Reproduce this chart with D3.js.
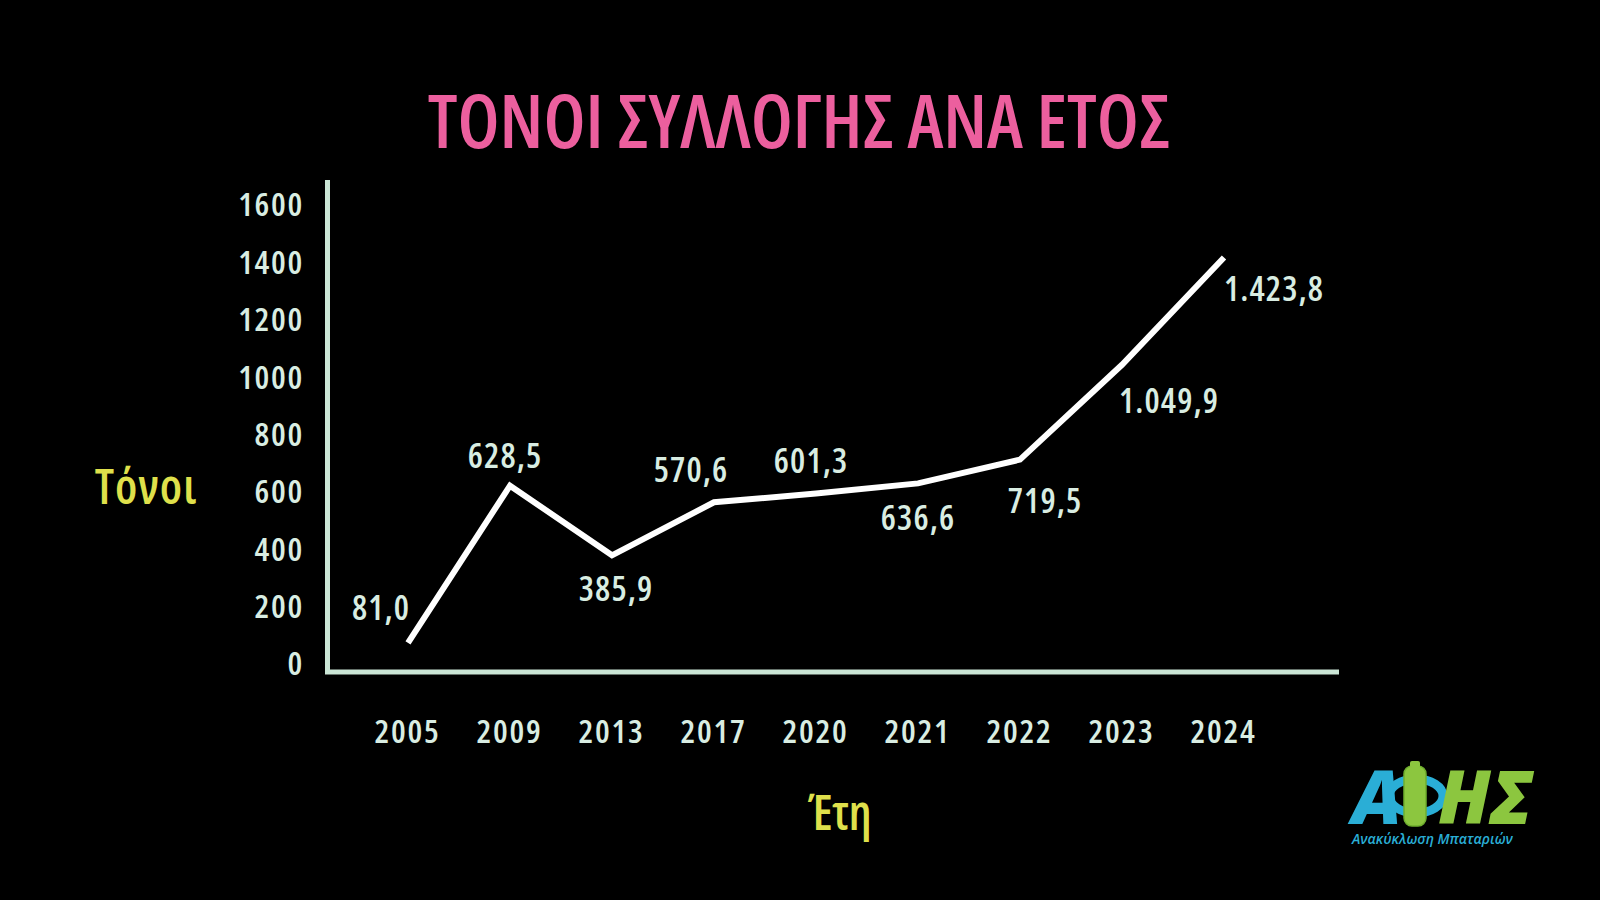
<!DOCTYPE html>
<html>
<head>
<meta charset="utf-8">
<script src="https://cdn.jsdelivr.net/npm/d3@7"></script>
<style>
  html, body { margin: 0; padding: 0; background: #000; }
  svg { display: block; }
  .cond { font-family: "Open Sans", "DejaVu Sans Condensed", sans-serif; font-stretch: 75%; }
</style>
</head>
<body>
<svg id="chart" width="1600" height="900"></svg>
<script>
// ---- data ----
const years = ["2005", "2009", "2013", "2017", "2020", "2021", "2022", "2023", "2024"];
const tonnes = [81.0, 628.5, 385.9, 570.6, 601.3, 636.6, 719.5, 1049.9, 1423.8];
const yTicks = [0, 200, 400, 600, 800, 1000, 1200, 1400, 1600];
const title = "ΤΟΝΟΙ ΣΥΛΛΟΓΗΣ ΑΝΑ ΕΤΟΣ";
const yTitle = "Τόνοι";
const xTitle = "Έτη";

// label placement (offsets from each point, px)
const labelDx = [-27, -5, 4, -23, -5, 0, 25, 47, 50];
const labelDy = [-35, -30, 33, -33, -33, 34, 41, 36, 31];

const fmt = v => {
  const s = v.toFixed(1).split(".");
  const int = s[0].replace(/\B(?=(\d{3})+(?!\d))/g, ".");
  return int + "," + s[1];
};

const svg = d3.select("#chart");
const W = 1600, H = 900;
svg.append("rect").attr("width", W).attr("height", H).attr("fill", "#000");

const mint = "#d9ede2";
const axisCol = "#cbe6d6";
const yellow = "#dfe04b";

const x = d3.scalePoint().domain(years).range([408, 1224]);
const y = d3.scaleLinear().domain([0, 1600]).range([666, 207]);

// title
svg.append("text").attr("class", "cond")
  .attr("x", 799).attr("y", 148)
  .attr("text-anchor", "middle")
  .attr("font-size", 74).attr("font-weight", 600)
  .attr("fill", "#ec5f9e")
  .text(title);

// y axis tick labels
const yAxis = d3.axisLeft(y).tickValues(yTicks).tickSize(0).tickPadding(0).tickFormat(d3.format("d"));
const gy = svg.append("g").attr("transform", "translate(304,-3)").call(yAxis);
gy.select(".domain").remove();
gy.selectAll("text").attr("class", "cond")
  .attr("font-size", 33).attr("font-weight", 600).attr("fill", mint)
  .attr("letter-spacing", "1.7px")
  .attr("dy", "0.36em");

// x axis tick labels
const xAxis = d3.axisBottom(x).tickSize(0).tickPadding(0);
const gx = svg.append("g").attr("transform", "translate(-1,731)").call(xAxis);
gx.select(".domain").remove();
gx.selectAll("text").attr("class", "cond")
  .attr("font-size", 33).attr("font-weight", 600).attr("fill", mint)
  .attr("letter-spacing", "1.7px")
  .attr("dy", "0.36em");

// axis lines
const axisY = 672;
svg.append("path")
  .attr("d", d3.line()([[327.5, 180], [327.5, axisY], [1339, axisY]]))
  .attr("fill", "none").attr("stroke", axisCol).attr("stroke-width", 5);

// line
const line = d3.line().x((d, i) => x(years[i])).y(d => y(d));
svg.append("path").datum(tonnes)
  .attr("d", line)
  .attr("fill", "none").attr("stroke", "#fff").attr("stroke-width", 6)
  .attr("stroke-linejoin", "miter");

// data labels
svg.append("g").selectAll("text").data(tonnes).join("text")
  .attr("class", "cond")
  .attr("x", (d, i) => x(years[i]) + labelDx[i])
  .attr("y", (d, i) => y(d) + labelDy[i])
  .attr("dy", "0.36em")
  .attr("text-anchor", "middle")
  .attr("font-size", 34).attr("font-weight", 600).attr("fill", mint)
  .attr("letter-spacing", "1.1px")
  .text(d => fmt(d));

// axis titles
svg.append("text").attr("class", "cond")
  .attr("x", 146).attr("y", 487).attr("dy", "0.36em")
  .attr("text-anchor", "middle")
  .attr("font-size", 48).attr("font-weight", 600).attr("fill", yellow)
  .attr("letter-spacing", "1px")
  .text(yTitle);
svg.append("text").attr("class", "cond")
  .attr("x", 840).attr("y", 813).attr("dy", "0.36em")
  .attr("text-anchor", "middle")
  .attr("font-size", 48).attr("font-weight", 600).attr("fill", yellow)
  .text(xTitle);

// logo
const logo = svg.append("g").attr("transform", "translate(1352,760)");
const blue = "#2aaed6", green = "#8cc63f";
logo.append("text").attr("x", 0).attr("y", 64)
  .attr("font-family", "Open Sans, sans-serif").attr("font-weight", 800)
  .attr("font-size", 74).attr("font-style", "italic").attr("fill", blue).text("Α");
// Φ: blue ring + green battery
logo.append("ellipse").attr("cx", 64).attr("cy", 36).attr("rx", 27).attr("ry", 17)
  .attr("fill", "none").attr("stroke", blue).attr("stroke-width", 9);
logo.append("rect").attr("x", 52).attr("y", 6).attr("width", 22).attr("height", 60).attr("rx", 8)
  .attr("fill", green).attr("stroke", "#6fae2e").attr("stroke-width", 1.5);
logo.append("rect").attr("x", 58).attr("y", 1).attr("width", 10).attr("height", 7).attr("rx", 2).attr("fill", green);
logo.append("text").attr("x", 86).attr("y", 64)
  .attr("font-family", "Open Sans, sans-serif").attr("font-weight", 800)
  .attr("font-size", 74).attr("font-style", "italic").attr("fill", green).text("ΗΣ");
logo.append("text").attr("x", 0).attr("y", 84)
  .attr("font-family", "Open Sans, sans-serif").attr("font-weight", 600)
  .attr("font-size", 14).attr("font-style", "italic").attr("fill", blue)
  .text("Ανακύκλωση Μπαταριών");
</script>
</body>
</html>
